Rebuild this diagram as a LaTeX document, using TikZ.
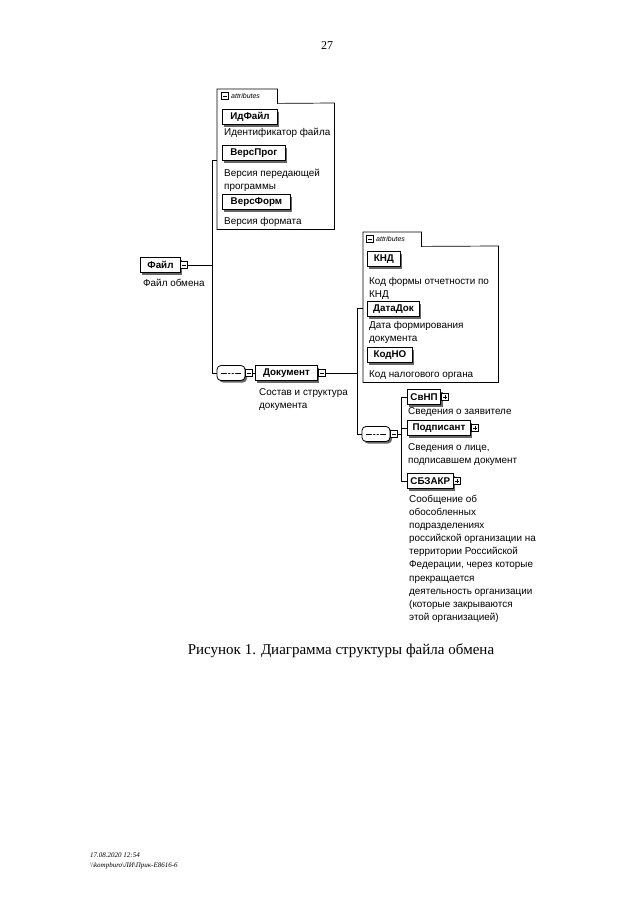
\documentclass[tikz,border=0pt]{standalone}
\usepackage{fontspec}
\setmainfont{Liberation Serif}
\newfontfamily\tah{Liberation Sans}
\usetikzlibrary{shadows}
\newcommand\elfont{\tah\bfseries\fontsize{9.8}{11}\selectfont}
\newcommand\dsfont{\tah\fontsize{9.9}{13.1}\selectfont}
\begin{document}
\begin{tikzpicture}[x=1pt,y=-1pt,
  elem/.style={draw, line width=0.9pt, fill=white, font=\elfont, anchor=west,
    minimum height=15, inner xsep=3, inner ysep=1,
    drop shadow={shadow xshift=2pt, shadow yshift=-2pt, fill=black!60, opacity=1}},
  desc/.style={anchor=north west, align=left, inner sep=0, font=\dsfont},
  boxline/.style={draw, line width=0.7pt},
  pmminus/.style={draw, fill=white, minimum size=7, inner sep=0, line width=0.5pt,
    path picture={\draw[line width=0.5pt] ([xshift=-2pt]path picture bounding box.center) -- ([xshift=2pt]path picture bounding box.center);}},
  pmplus/.style={pmminus,
    path picture={\draw[line width=0.5pt] ([xshift=-2pt]path picture bounding box.center) -- ([xshift=2pt]path picture bounding box.center)
      ([yshift=-2pt]path picture bounding box.center) -- ([yshift=2pt]path picture bounding box.center);}},
  seqsym/.style={draw, fill=white, rounded corners=4pt, minimum width=28, minimum height=15, inner sep=0, line width=0.8pt,
    drop shadow={shadow xshift=2pt, shadow yshift=-2pt, fill=black!60, opacity=1},
    path picture={\draw[line width=0.6pt] ([xshift=-10pt]path picture bounding box.center) -- ([xshift=10pt]path picture bounding box.center);
      \foreach \d in {-3.5,0,3.5} \fill ([xshift=\d pt]path picture bounding box.center) circle (1.1pt);}},
  tabtext/.style={anchor=west, inner sep=0, font=\tah\itshape\fontsize{7}{8}\selectfont},
  conn/.style={draw, line width=0.7pt}
]
\path[fill=white, use as bounding box] (0,0) rectangle (640,905);

% page number
\node[font=\fontsize{12}{14}\selectfont] (pg) at (327,46) {27};

% ---- attributes box A
\node[anchor=north west, minimum width=60, minimum height=14, inner sep=0] (tabA) at (217,89) {};
\node[anchor=north west, minimum width=117, minimum height=126, inner sep=0] (attrA) at (217,103) {};
\draw[boxline] (tabA.south west) -- (tabA.north west) -- (tabA.north east) -- (tabA.south east)
  -- (attrA.north east) -- (attrA.south east) -- (attrA.south west) -- cycle;
\node[pmminus] (tabAm) at (225,96) {};
\node[tabtext] (tabAt) at (231,96) {attributes};

\node[elem, minimum width=55] (idf) at (222,117) {ИдФайл};
\node[desc] (idfd) at (224,128) {Идентификатор файла};
\node[elem, minimum width=63] (vprog) at (222,153) {ВерсПрог};
\node[desc] (vprogd) at (224,169) {Версия передающей\\программы};
\node[elem, minimum width=68] (vform) at (222,202) {ВерсФорм};
\node[desc] (vformd) at (224,217) {Версия формата};

% ---- root element
\node[elem, minimum width=40] (fajl) at (140,265) {Файл};
\node[pmminus] (fajlm) at (184,265) {};
\node[desc] (fajld) at (143,279) {Файл обмена};

% ---- sequence 1 and Документ
\node[seqsym] (seq1) at (231,373) {};
\node[pmminus] (seq1m) at (249,373) {};
\node[elem, minimum width=62] (doc) at (255,373) {Документ};
\node[pmminus] (docm) at (322,373) {};
\node[desc] (docd) at (259,388) {Состав и структура\\документа};

% ---- attributes box B
\node[anchor=north west, minimum width=58, minimum height=14, inner sep=0] (tabB) at (363,232) {};
\node[anchor=north west, minimum width=135, minimum height=136, inner sep=0] (attrB) at (363,246) {};
\draw[boxline] (tabB.south west) -- (tabB.north west) -- (tabB.north east) -- (tabB.south east)
  -- (attrB.north east) -- (attrB.south east) -- (attrB.south west) -- cycle;
\node[pmminus] (tabBm) at (370,239) {};
\node[tabtext] (tabBt) at (376,239) {attributes};

\node[elem, minimum width=33] (knd) at (367,259) {КНД};
\node[desc] (kndd) at (369,277) {Код формы отчетности по\\КНД};
\node[elem, minimum width=52] (datadok) at (367,309) {ДатаДок};
\node[desc] (datadokd) at (369,321) {Дата формирования\\документа};
\node[elem, minimum width=45] (kodno) at (367,355) {КодНО};
\node[desc] (kodnod) at (369,370) {Код налогового органа};

% ---- sequence 2
\node[seqsym] (seq2) at (376,434) {};
\node[pmminus] (seq2m) at (394,434) {};

\node[elem, minimum width=33] (svnp) at (407,397) {СвНП};
\node[pmplus] (svnpp) at (445,397) {};
\node[desc] (svnpd) at (408,407) {Сведения о заявителе};
\node[elem, minimum width=63] (podp) at (407,428) {Подписант};
\node[pmplus] (podpp) at (475,428) {};
\node[desc] (podpd) at (408,443) {Сведения о лице,\\подписавшем документ};
\node[elem, minimum width=45] (sbz) at (407,481) {СБЗАКР};
\node[pmplus] (sbzp) at (457,481) {};
\node[desc] (sbzd) at (409,495) {Сообщение об\\обособленных\\подразделениях\\российской организации на\\территории Российской\\Федерации, через которые\\прекращается\\деятельность организации\\(которые закрываются\\этой организацией)};

% ---- connectors
\coordinate (j1) at (212,265);
\coordinate (j2) at (357,373);
\coordinate (j3) at (401,434);
\draw[conn] (fajlm.east) -- (j1);
\draw[conn] (j1) |- ([yshift=6pt]attrA.west);
\draw[conn] (j1) |- (seq1.west);
\draw[conn] (seq1m.east) -- (doc.west);
\draw[conn] (docm.east) -- (j2);
\draw[conn] (j2) |- ([yshift=6pt]attrB.west);
\draw[conn] (j2) |- (seq2.west);
\draw[conn] (seq2m.east) -- (j3);
\draw[conn] (j3) |- (svnp.west);
\draw[conn] (j3) |- (podp.west);
\draw[conn] (j3) |- (sbz.west);

% ---- caption and footer
\node[font=\fontsize{15}{17}\selectfont] (cap) at (341,651) {Рисунок 1. Диаграмма структуры файла обмена};
\node[anchor=north west, align=left, inner sep=0, font=\itshape\fontsize{7}{10}\selectfont] (foot) at (90,853)
  {17.08.2020 12:54\\{\textbackslash}{\textbackslash}kompburo{\textbackslash}ЛИ{\textbackslash}Прик-Е8616-6};
\end{tikzpicture}
\end{document}
